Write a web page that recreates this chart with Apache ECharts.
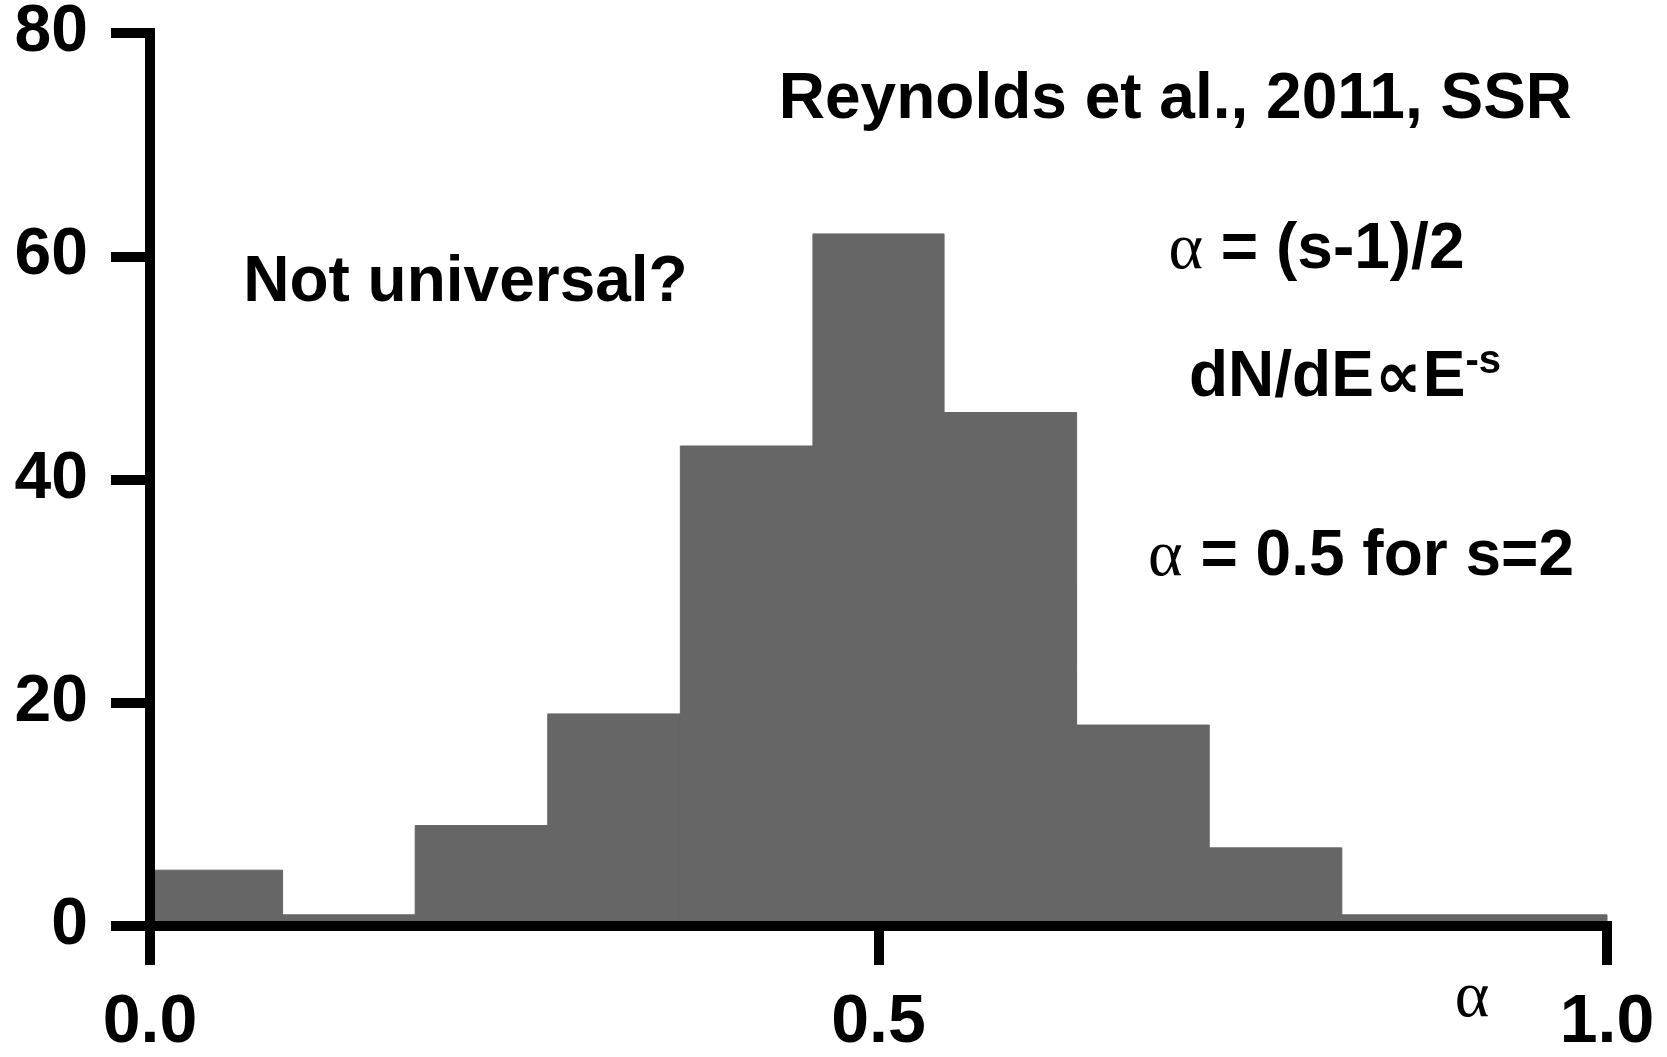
<!DOCTYPE html>
<html>
<head>
<meta charset="utf-8">
<script src="https://cdn.jsdelivr.net/npm/echarts@6/dist/echarts.min.js"></script>
<style>
  html, body { margin: 0; padding: 0; background: #ffffff; }
  #chart { width: 1667px; height: 1057px; }
</style>
</head>
<body>
<div id="chart"></div>
<script>
// Distribution of the radio spectral index alpha (counts per bin)
const binStart = [0.000, 0.091, 0.182, 0.273, 0.364, 0.455, 0.545, 0.636, 0.727, 0.818, 0.909];
const binEnd   = [0.091, 0.182, 0.273, 0.364, 0.455, 0.545, 0.636, 0.727, 0.818, 0.909, 1.000];
const counts   = [5, 1, 9, 19, 43, 62, 46, 18, 7, 1, 1];

// Axis ranges and tick steps
const xMin = 0, xMax = 1, xStep = 0.5;
const yMin = 0, yMax = 80, yStep = 20;

// Text notes placed in data coordinates [alpha, count]
const notes = [
  { text: '{b|Reynolds et al., 2011, SSR}', at: [0.7038, 74.0] },
  { text: '{b|Not universal?}',             at: [0.2165, 57.6] },
  { text: '{g|α}{b| = (s-1)/2}',            at: [0.8006, 60.5] },
  { text: '{b|dN/dE}{p|∝}{b|E}{sup|-s}',    at: [0.8202, 49.1] },
  { text: '{g|α}{b| = 0.5 for s=2}',        at: [0.8312, 33.0] }
];
const xName = 'α';
const xNameAt = [0.9074, -6.5];

const histData = binStart.map((s, i) => [s, binEnd[i], counts[i]]);

const chart = echarts.init(document.getElementById('chart'), null, { renderer: 'canvas' });

const axisLine = { show: true, lineStyle: { color: '#000', width: 10, cap: 'square' } };
const tickStyle = { show: true, length: 39, lineStyle: { color: '#000', width: 10 } };
const labelFont = { fontFamily: 'Liberation Sans, Arial, sans-serif', fontWeight: 'bold', color: '#000' };

chart.setOption({
  animation: false,
  backgroundColor: '#ffffff',
  grid: { left: 150, top: 33, right: 60, bottom: 126, containLabel: false },
  xAxis: [
    {
      type: 'value', position: 'bottom', min: xMin, max: xMax, interval: xStep, z: 5,
      axisLine: axisLine, axisTick: tickStyle, splitLine: { show: false },
      axisLabel: Object.assign({ fontSize: 68, margin: 63, showMinLabel: true, showMaxLabel: true,
        formatter: v => v.toFixed(1) }, labelFont)
    },
    {
      type: 'value', position: 'top', min: xMin, max: xMax, z: 5,
      axisLine: axisLine, axisTick: { show: false }, axisLabel: { show: false }, splitLine: { show: false }
    }
  ],
  yAxis: [
    {
      type: 'value', position: 'left', min: yMin, max: yMax, interval: yStep, z: 5,
      axisLine: axisLine, axisTick: tickStyle, splitLine: { show: false },
      axisLabel: Object.assign({ fontSize: 66, margin: 62, padding: [10, 0, 0, 0] }, labelFont)
    },
    {
      type: 'value', position: 'right', min: yMin, max: yMax, z: 5,
      axisLine: axisLine, axisTick: { show: false }, axisLabel: { show: false }, splitLine: { show: false }
    }
  ],
  series: [{
    type: 'custom',
    xAxisIndex: 0, yAxisIndex: 0,
    data: histData,
    encode: { x: [0, 1], y: 2 },
    z: 2,
    renderItem: function (params, api) {
      const topLeft = api.coord([api.value(0), api.value(2)]);
      const bottomRight = api.coord([api.value(1), 0]);
      return {
        type: 'rect',
        shape: {
          x: topLeft[0], y: topLeft[1],
          width: bottomRight[0] - topLeft[0],
          height: bottomRight[1] - topLeft[1]
        },
        // a matching stroke closes the hairline seams between neighbouring bins
        style: { fill: '#666666', stroke: '#666666', lineWidth: 1 }
      };
    }
  }]
});

// Notes and the alpha axis title, positioned through the grid's coordinate system
const rich = {
  b:   { fontFamily: 'Liberation Sans, Arial, sans-serif', fontWeight: 'bold', fontSize: 64, fill: '#000', color: '#000' },
  g:   { fontFamily: 'Liberation Serif, Times New Roman, serif', fontSize: 66, fill: '#000', color: '#000' },
  p:   { fontFamily: 'DejaVu Sans, sans-serif', fontWeight: 'bold', fontSize: 66, fill: '#000', color: '#000', padding: [6, 1, 0, 1] },
  sup: { fontFamily: 'Liberation Sans, Arial, sans-serif', fontWeight: 'bold', fontSize: 40, fill: '#000', color: '#000', verticalAlign: 'top' }
};
const graphics = notes.map(n => {
  const p = chart.convertToPixel({ gridIndex: 0 }, n.at);
  return {
    type: 'text', z: 10, x: p[0], y: p[1],
    style: { text: n.text, rich: rich, align: 'center', verticalAlign: 'middle',
             textAlign: 'center', textVerticalAlign: 'middle' }
  };
});
const np = chart.convertToPixel({ gridIndex: 0 }, xNameAt);
graphics.push({
  type: 'text', z: 10, x: np[0], y: np[1],
  style: { text: xName, fontFamily: 'Liberation Serif, Times New Roman, serif', fontSize: 66,
           fill: '#000', align: 'center', verticalAlign: 'middle', textAlign: 'center', textVerticalAlign: 'middle' }
});
chart.setOption({ graphic: graphics });
</script>
</body>
</html>
